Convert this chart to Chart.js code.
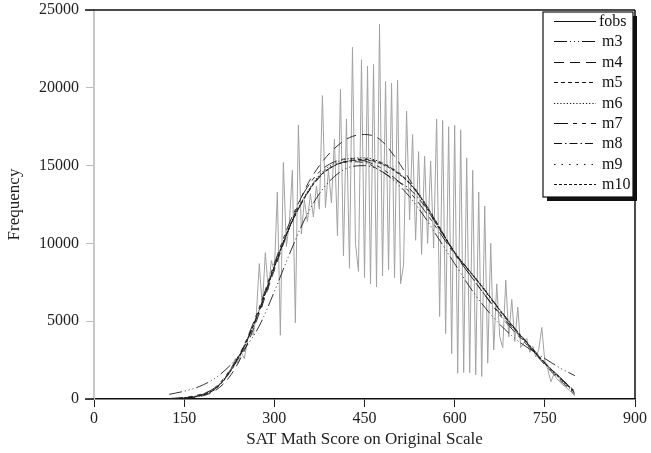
<!DOCTYPE html>
<html><head><meta charset="utf-8">
<script src="https://cdn.jsdelivr.net/npm/chart.js@4.4.1/dist/chart.umd.min.js"></script>
<style>html,body{margin:0;padding:0;background:#fff}canvas{display:block}</style>
</head><body>
<canvas id="c" width="651" height="453"></canvas>
<script>
// ---- data ----
const fobsX = [150,155,160,165,170,175,180,185,190,195,200,205,210,215,220,225,230,235,240,245,250,255,260,265,270,275,280,285,290,295,300,305,310,315,320,325,330,335,340,345,350,355,360,365,370,375,380,385,390,395,400,405,410,415,420,425,430,435,440,445,450,455,460,465,470,475,480,485,490,495,500,505,510,515,520,525,530,535,540,545,550,555,560,565,570,575,580,585,590,595,600,605,610,615,620,625,630,635,640,645,650,655,660,665,670,675,680,685,690,695,700,705,710,715,720,725,730,735,740,745,750,755,760,765,770,775,780,785,790,795,800];
const fobsY = [50,80,100,130,180,230,300,380,450,560,650,800,1000,1150,1400,1750,2100,2600,2300,3000,2600,3700,4400,4100,5400,8700,5900,9400,7000,8900,8200,13300,4100,15200,9800,11300,14700,4900,17600,10600,12800,11400,13200,11700,13700,12200,19500,12300,14700,12600,16700,10500,19900,9200,18000,8400,22600,10000,8200,21800,7800,21400,7400,21500,7200,24100,7900,20400,8300,20300,7800,20500,7400,8600,18500,11500,17000,10200,15900,9300,15600,10000,15300,9700,18000,5300,17900,4200,17500,2900,17600,1650,17300,1700,15500,1700,14700,1550,13300,1450,12400,2300,10000,3150,7400,4000,3300,7650,4000,6400,3700,5900,3300,3600,3900,3000,3400,2700,3200,4600,2400,1900,1100,1600,1300,1100,900,750,600,400,200];

const modelX = [125,150,175,200,225,250,275,300,325,350,375,400,425,450,475,500,525,550,575,600,625,650,675,700,725,750,775,800];
const m3  = [300,500,800,1300,2100,3200,4700,6900,9300,11500,13200,14300,14900,15000,14700,14000,13000,11700,10200,8700,7200,5900,4800,3900,3200,2600,2000,1500];
const m4  = [0,30,150,500,1400,3100,5500,8300,11000,13400,15000,16100,16800,17000,16700,15600,14100,12500,10900,9400,8000,6700,5500,4400,3300,2200,1200,300];
const m5  = [10,60,200,600,1700,3400,5700,8500,11000,12900,14300,15000,15300,15400,15200,14700,13900,12600,11000,9400,8200,7000,5700,4500,3400,2300,1350,400];
const m6  = [20,80,230,650,1750,3450,5750,8550,11100,13000,14400,15150,15450,15500,15250,14700,13850,12550,11000,9450,8250,7050,5750,4550,3400,2300,1300,350];
const m7  = [30,100,280,700,1800,3500,5900,8700,11300,13300,14600,15250,15450,15300,14900,14200,13300,12100,10700,9300,8000,6700,5400,4300,3300,2300,1400,500];
const m8  = [10,70,220,620,1700,3400,5700,8500,11000,12900,14250,15000,15250,15200,14700,14100,13500,12400,10900,9400,8200,7000,5750,4550,3450,2350,1400,450];
const m9  = [15,70,210,600,1650,3350,5650,8450,11000,12950,14350,15050,15350,15450,15250,14750,13950,12650,11050,9450,8200,6950,5650,4450,3350,2250,1300,380];
const m10 = [10,60,190,580,1650,3350,5700,8500,11050,12950,14300,15000,15300,15350,15150,14650,13850,12600,11000,9400,8200,7000,5700,4500,3400,2300,1350,420];

const xTicks = [0,150,300,450,600,750,900];
const yTicks = [0,5000,10000,15000,20000,25000];
const seriesNames = ['fobs','m3','m4','m5','m6','m7','m8','m9','m10'];

// ---- styles ----
const SERIF = '"Liberation Serif", "DejaVu Serif", serif';
const dashes = {
  fobs: [], m3: [13,3,1,3,1,3,1,3], m4: [10,6], m5: [4,3], m6: [1.2,2],
  m7: [14,5,4,5,4,5], m8: [8,3,1.5,3], m9: [1.5,6], m10: [3,2]
};
const modelData = {m3, m4, m5, m6, m7, m8, m9, m10};

function pts(xs, ys) { return xs.map((x, i) => ({x, y: ys[i]})); }

const datasets = seriesNames.map(name => {
  if (name === 'fobs') {
    return { label: name, data: pts(fobsX, fobsY), borderColor: '#a2a2a2', borderWidth: 1,
      pointRadius: 0, tension: 0, borderDash: [], order: 10 };
  }
  return { label: name, data: pts(modelX, modelData[name]), borderColor: '#1c1c1c', borderWidth: 0.9,
    pointRadius: 0, cubicInterpolationMode: 'monotone', borderDash: dashes[name], order: 1 };
});

const framePlugin = {
  id: 'frameLegend',
  afterDraw(chart) {
    const ctx = chart.ctx, a = chart.chartArea;
    ctx.save();
    ctx.strokeStyle = '#111'; ctx.lineWidth = 1.5; ctx.setLineDash([]);
    ctx.beginPath();
    ctx.moveTo(a.left - 9, a.top); ctx.lineTo(a.right, a.top);
    ctx.moveTo(a.right, a.top); ctx.lineTo(a.right, a.bottom);
    ctx.moveTo(a.left - 9, a.bottom); ctx.lineTo(a.left, a.bottom);
    ctx.stroke();
    // legend box
    const W = 90, H = 185;
    const L = Math.round(a.right - W - 2), T = Math.round(a.top + 2);
    ctx.fillStyle = '#111'; ctx.fillRect(L + 4, T + 4, W, H);
    ctx.fillStyle = '#fff'; ctx.fillRect(L, T, W, H);
    ctx.lineWidth = 1.2; ctx.strokeStyle = '#111'; ctx.strokeRect(L, T, W, H);
    chart.data.datasets.forEach((ds, i) => {
      const y = Math.round(T + 9 + i * 20.4) + 0.5;
      ctx.setLineDash(ds.borderDash || []);
      ctx.strokeStyle = '#111'; ctx.lineWidth = 1;
      ctx.beginPath(); ctx.moveTo(L + 11, y); ctx.lineTo(L + 53, y); ctx.stroke();
      ctx.setLineDash([]);
      ctx.fillStyle = '#111'; ctx.font = '16px ' + SERIF; ctx.textBaseline = 'middle'; ctx.textAlign = 'left';
      ctx.fillText(ds.label, L + (ds.label === 'fobs' ? 56 : 59), y);
    });
    ctx.restore();
  }
};

new Chart(document.getElementById('c'), {
  type: 'line',
  data: { datasets },
  options: {
    responsive: false, animation: false, devicePixelRatio: 1,
    layout: { padding: { top: 10, right: 16, left: 0, bottom: 0 } },
    plugins: { legend: { display: false }, tooltip: { enabled: false } },
    scales: {
      x: {
        type: 'linear', min: 0, max: 900,
        afterBuildTicks: s => { s.ticks = xTicks.map(v => ({ value: v })); },
        afterFit: s => { s.height = 54; s.paddingLeft = 0; s.paddingRight = 0; },
        ticks: { color: '#222', font: { family: SERIF, size: 16 }, padding: 2, maxRotation: 0,
          callback: v => String(v) },
        grid: { drawOnChartArea: false, drawTicks: true, tickLength: 8, color: '#222', lineWidth: 1 },
        border: { color: '#111', width: 1.5 },
        title: { display: true, text: 'SAT Math Score on Original Scale', color: '#222',
          font: { family: SERIF, size: 17 }, padding: { top: 0, bottom: 3 } }
      },
      y: {
        type: 'linear', min: 0, max: 25000,
        afterBuildTicks: s => { s.ticks = yTicks.map(v => ({ value: v })); },
        afterFit: s => { s.width = 94; s.paddingTop = 0; s.paddingBottom = 0; },
        ticks: { color: '#222', font: { family: SERIF, size: 16 }, padding: 7,
          callback: v => String(v) },
        grid: { drawOnChartArea: false, drawTicks: true, tickLength: 8, color: '#bbb', lineWidth: 1 },
        border: { color: '#c8c8c8', width: 2 },
        title: { display: true, text: 'Frequency', color: '#222',
          font: { family: SERIF, size: 17 }, padding: { top: 4, bottom: 0 } }
      }
    }
  },
  plugins: [framePlugin]
});
</script>
</body></html>
